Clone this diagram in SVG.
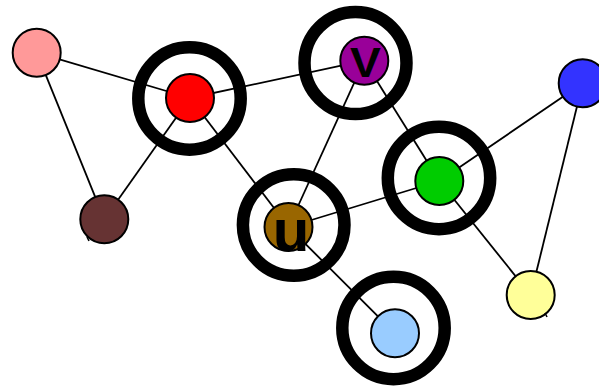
<svg xmlns="http://www.w3.org/2000/svg" width="599" height="387" viewBox="0 0 599 387">
<style>
.edge{stroke:#000;stroke-width:1.8;fill:none}
.node{stroke:#000;stroke-width:2}
.ring{fill:none;stroke:#000;stroke-width:12.5}
.lbl{font-family:"Liberation Sans",Arial,sans-serif;font-weight:bold;fill:#000;text-anchor:middle}
.tick{stroke:#000;stroke-width:1.5}
</style>
<rect width="599" height="387" fill="#fff"/>
<g id="edges">
<line class="edge" x1="36.7" y1="52.7" x2="190" y2="98"/>
<line class="edge" x1="36.7" y1="52.7" x2="104.3" y2="219.3"/>
<line class="edge" x1="190" y1="98" x2="104.3" y2="219.3"/>
<line class="edge" x1="190" y1="98" x2="364.3" y2="60.7"/>
<line class="edge" x1="190" y1="98" x2="288.5" y2="227"/>
<line class="edge" x1="364.3" y1="60.7" x2="288.5" y2="227"/>
<line class="edge" x1="364.3" y1="60.7" x2="439.3" y2="181"/>
<line class="edge" x1="288.5" y1="227" x2="439.3" y2="181"/>
<line class="edge" x1="288.5" y1="227" x2="395" y2="333.3"/>
<line class="edge" x1="439.3" y1="181" x2="582.7" y2="83.3"/>
<line class="edge" x1="439.3" y1="181" x2="530.7" y2="295"/>
<line class="edge" x1="582.7" y1="83.3" x2="530.7" y2="295"/>
</g>
<g id="ring-red"><circle class="ring" cx="189.5" cy="98.5" r="51.2"/></g>
<g id="ring-v"><circle class="ring" cx="355.5" cy="63" r="51"/></g>
<g id="ring-green"><circle class="ring" cx="439" cy="178" r="51.2"/></g>
<g id="ring-u"><circle class="ring" cx="293.7" cy="225" r="50.8"/></g>
<g id="ring-lightblue"><circle class="ring" cx="393.5" cy="328" r="51.2"/></g>
<g id="n-pink"><circle class="node" cx="36.7" cy="52.7" r="24" fill="#ff9999"/></g>
<g id="n-red"><circle class="node" cx="190" cy="98" r="24" fill="#ff0000"/></g>
<g id="n-brown"><circle class="node" cx="104.3" cy="219.3" r="24" fill="#663333"/><line class="tick" x1="87" y1="237" x2="89" y2="241"/></g>
<g id="n-v"><circle class="node" cx="364.3" cy="60.7" r="24" fill="#990099"/><text class="lbl" x="365.3" y="76.7" font-size="42" transform="translate(365.3 0) scale(1.1 1) translate(-365.3 0)">V</text></g>
<g id="n-green"><circle class="node" cx="439.3" cy="181" r="24" fill="#00cc00"/></g>
<g id="n-blue"><circle class="node" cx="582.7" cy="83.3" r="24" fill="#3333ff"/></g>
<g id="n-u"><circle class="node" cx="288.5" cy="227" r="24" fill="#996600"/><text class="lbl" x="291" y="250.7" font-size="60">u</text></g>
<g id="n-lightblue"><circle class="node" cx="395" cy="333.3" r="24" fill="#99ccff"/></g>
<g id="n-yellow"><circle class="node" cx="530.7" cy="295" r="24" fill="#ffff99"/><line class="tick" x1="545" y1="313" x2="547" y2="317"/></g>
</svg>
